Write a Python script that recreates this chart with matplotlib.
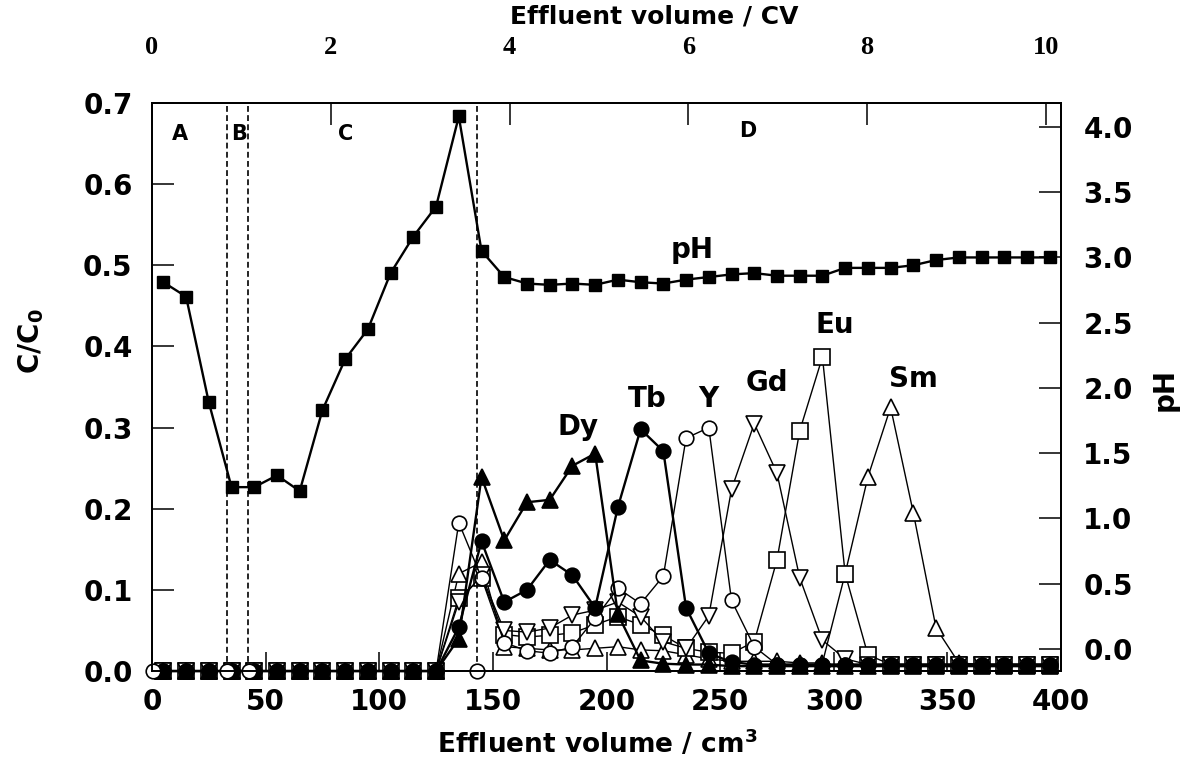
import matplotlib.pyplot as plt

plt.rcParams['font.family'] = 'DejaVu Sans'
plt.rcParams['font.weight'] = 'bold'
plt.rcParams['axes.labelweight'] = 'bold'
plt.rcParams['mathtext.default'] = 'bf'

# effluent volume of each fraction (cm3)
volume = [5, 15, 25, 35, 45, 55, 65, 75, 85, 95, 105, 115, 125, 135, 145,
          155, 165, 175, 185, 195, 205, 215, 225, 235, 245, 255, 265, 275,
          285, 295, 305, 315, 325, 335, 345, 355, 365, 375, 385, 395]

ph = [2.81, 2.70, 1.89, 1.24, 1.24, 1.33, 1.21, 1.83, 2.22, 2.45, 2.88, 3.16,
      3.39, 4.08, 3.05, 2.85, 2.80, 2.79, 2.80, 2.79, 2.83, 2.81, 2.80, 2.83,
      2.85, 2.87, 2.88, 2.86, 2.86, 2.86, 2.92, 2.92, 2.92, 2.94, 2.98, 3.00,
      3.00, 3.00, 3.00, 3.00]

# C/C0 of each element
dy = [0]*13 + [0.040, 0.239, 0.161, 0.208, 0.211, 0.253, 0.268, 0.070, 0.013,
               0.009, 0.008, 0.008] + [0.006]*15
tb = [0]*13 + [0.054, 0.160, 0.085, 0.100, 0.137, 0.118, 0.078, 0.202, 0.298,
               0.271, 0.078, 0.022, 0.011] + [0.008]*14
y_ = [0]*13 + [0.183, 0.115, 0.035, 0.025, 0.022, 0.030, 0.065, 0.102, 0.083,
               0.117, 0.287, 0.300, 0.087, 0.030] + [0.008]*13
gd = [0]*13 + [0.085, 0.118, 0.050, 0.048, 0.053, 0.069, 0.075, 0.085, 0.067,
               0.036, 0.028, 0.068, 0.224, 0.305, 0.244, 0.115, 0.038,
               0.015] + [0.008]*9
eu = [0]*13 + [0.090, 0.115, 0.045, 0.042, 0.044, 0.047, 0.057, 0.067, 0.057,
               0.044, 0.028, 0.023, 0.022, 0.036, 0.137, 0.296, 0.387, 0.120,
               0.020] + [0.008]*8
sm = [0]*13 + [0.120, 0.134, 0.030, 0.028, 0.026, 0.026, 0.028, 0.030, 0.026,
               0.025, 0.020, 0.015, 0.012, 0.012, 0.012, 0.010, 0.010, 0.120,
               0.239, 0.325, 0.195, 0.053, 0.010] + [0.008]*4

# stage boundaries (cm3)
boundaries = [33, 42.3, 143]
boundary_marks = [0.5, 33, 42.7, 143]

cv_ticks = [0, 2, 4, 6, 8, 10]

fig = plt.figure(figsize=(11.93, 7.69), dpi=100)
ax = fig.add_axes([0.1274, 0.1274, 0.762, 0.7386])
ax2 = ax.twinx()
ax3 = ax.twiny()

kw = dict(color='k', mec='k', mew=1.2, clip_on=False)
ax.plot(volume, sm, marker='^', ms=11, mfc='white', lw=1.0, **kw)
ax.plot(volume, eu, marker='s', ms=11, mfc='white', lw=1.0, **kw)
ax.plot(volume, gd, marker='v', ms=11, mfc='white', lw=1.0, **kw)
ax.plot(volume, y_, marker='o', ms=10.5, mfc='white', lw=1.0, **kw)
ax.plot(volume, tb, marker='o', ms=10.5, mfc='k', lw=1.7, **kw)
ax.plot(volume, dy, marker='^', ms=11, mfc='k', lw=1.7, **kw)
ax.plot(boundary_marks, [0]*len(boundary_marks), ls='none', marker='o',
        ms=10.5, mfc='white', mec='k', mew=1.2, clip_on=False, zorder=5)

ax2.plot(volume, ph, marker='s', ms=9, color='k', mfc='k', lw=1.7,
         clip_on=False)

for b in boundaries:
    ax.axvline(b, color='k', ls=(0, (3.5, 2)), lw=1.2)

ax.set_xlim(0, 400)
ax.set_ylim(0, 0.7)
ax2.set_ylim(-0.169, 4.183)
ax3.set_xlim(0, 10.17)

ax.set_xticks([0, 50, 100, 150, 200, 250, 300, 350, 400])
ax.set_yticks([0, 0.1, 0.2, 0.3, 0.4, 0.5, 0.6, 0.7])
ax.set_yticklabels(['0.0', '0.1', '0.2', '0.3', '0.4', '0.5', '0.6', '0.7'])
ax2.set_yticks([0, 0.5, 1.0, 1.5, 2.0, 2.5, 3.0, 3.5, 4.0])
ax2.set_yticklabels(['0.0', '0.5', '1.0', '1.5', '2.0', '2.5', '3.0', '3.5', '4.0'])
ax3.set_xticks(cv_ticks)
ax3.set_xticklabels([str(c) for c in cv_ticks], fontfamily='Liberation Serif',
                    fontsize=19, fontweight='bold')

ax.tick_params(axis='y', direction='in', length=16, width=1.1, labelsize=20, pad=14)
ax.tick_params(axis='x', direction='in', length=14, width=1.1, labelsize=20, pad=12)
ax2.tick_params(axis='y', direction='in', length=16, width=1.1, labelsize=20, pad=16)
ax3.tick_params(axis='x', direction='in', length=16, width=1.1, pad=32)

for a in (ax, ax2, ax3):
    for s in a.spines.values():
        s.set_linewidth(1.2)

ax.set_xlabel(r'Effluent volume / cm$^{3}$', fontsize=19, fontweight='bold')
ax.xaxis.set_label_coords(0.49, -0.102)
ax.set_ylabel(r'C/C$_{0}$', fontsize=20, fontweight='bold')
ax.yaxis.set_label_coords(-0.117, 0.58)
ax2.set_ylabel('pH', fontsize=20, fontweight='bold')
ax2.yaxis.set_label_coords(1.098, 0.495)
ax3.set_xlabel('Effluent volume / CV', fontsize=18, fontweight='bold')
ax3.xaxis.set_label_coords(0.553, 1.14)

for txt, x, yv in [('A', 12.3, 0.655), ('B', 38.3, 0.655), ('C', 85.4, 0.655),
                   ('D', 262, 0.658)]:
    ax.text(x, yv, txt, fontsize=15, fontweight='bold', ha='center', va='baseline')

for txt, x, yv in [('Dy', 187.5, 0.291), ('Tb', 217.8, 0.325), ('Y', 245, 0.325),
                   ('Gd', 270.6, 0.345), ('Eu', 300.5, 0.417), ('Sm', 335, 0.350),
                   ('pH', 237.6, 0.509)]:
    ax.text(x, yv, txt, fontsize=20, fontweight='bold', ha='center',
            va='baseline', zorder=10)

fig.savefig('out.png', dpi=100)
